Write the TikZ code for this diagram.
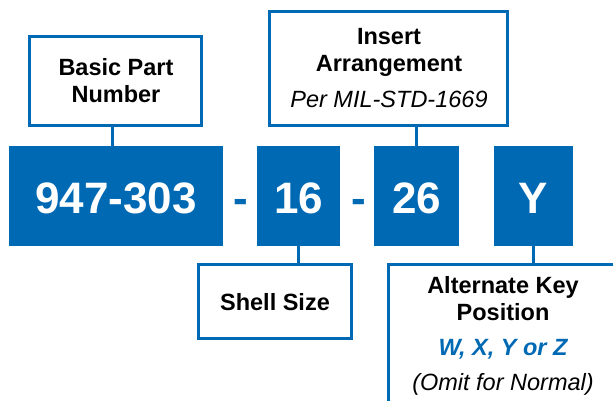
\documentclass[tikz,border=0pt]{standalone}
\usepackage{fontspec}
\setmainfont{Liberation Sans}
\definecolor{pblue}{HTML}{0069B4}
\begin{document}
\begin{tikzpicture}[x=1pt,y=-1pt,
  bluebox/.style={fill=pblue, inner sep=0pt},
  bignum/.style={anchor=base, inner sep=0pt, text=white, font=\fontsize{44}{50}\selectfont\bfseries},
  dashtxt/.style={anchor=base, inner sep=0pt, text=pblue, font=\fontsize{44}{50}\selectfont\bfseries},
  labelbox/.style={draw=pblue, line width=3pt, fill=white, inner sep=0pt},
  conn/.style={draw=pblue, line width=3pt},
  lbl/.style={anchor=base, inner sep=0pt, font=\fontsize{23.5}{27}\selectfont\bfseries},
  itl/.style={anchor=base, inner sep=0pt, font=\fontsize{23.5}{27}\selectfont\itshape},
  blueitl/.style={anchor=base, inner sep=0pt, text=pblue, font=\fontsize{23.5}{27}\selectfont\bfseries\itshape}]
\useasboundingbox (0,0) rectangle (613,401);
\clip (0,0) rectangle (613,401);
\fill[white] (0,0) rectangle (613,401);

% blue code boxes
\node[bluebox, minimum width=214pt, minimum height=100pt] (b1) at (116,196) {};
\node[bluebox, minimum width=83pt, minimum height=100pt] (b2) at (298.5,196) {};
\node[bluebox, minimum width=85pt, minimum height=100pt] (b3) at (416.5,196) {};
\node[bluebox, minimum width=79pt, minimum height=100pt] (b4) at (533.5,196) {};
\node[bignum] (t1) at (116,213) {947-303};
\node[bignum] (t2) at (298.5,213) {16};
\node[bignum] (t3) at (416.5,213) {26};
\node[bignum] (t4) at (533.5,213) {Y};
\node[dashtxt] (d1) at (241,213) {-};
\node[dashtxt] (d2) at (358.5,213) {-};

% label boxes
\node[labelbox, minimum width=172pt, minimum height=89pt] (bpn) at (115.5,81) {};
\node[labelbox, minimum width=238pt, minimum height=114pt] (ins) at (388.5,68.5) {};
\node[labelbox, minimum width=153pt, minimum height=74pt] (shell) at (275,301.5) {};
\node[labelbox, minimum width=231.5pt, minimum height=145.5pt] (alt) at (504.25,337.25) {};

% connectors
\draw[conn] ([xshift=-3.5pt]bpn.south) -- ([xshift=-3.5pt]bpn.south |- b1.north);
\draw[conn] (b3.north) -- (b3.north |- ins.south);
\draw[conn] (b2.south) -- (b2.south |- shell.north);
\draw[conn] (b4.south) -- (b4.south |- alt.north);

% label texts
\node[lbl] (l1a) at (116,76) {Basic Part};
\node[lbl] (l1b) at (116,103) {Number};
\node[lbl] (l2a) at (389,45) {Insert};
\node[lbl] (l2b) at (389,72) {Arrangement};
\node[itl] (l2c) at (389,108) {Per MIL-STD-1669};
\node[lbl] (l3) at (275,310) {Shell Size};
\node[lbl] (l4a) at (503,293) {Alternate Key};
\node[lbl] (l4b) at (503,320) {Position};
\node[blueitl] (l4c) at (503,355) {W, X, Y or Z};
\node[itl] (l4d) at (503,390) {(Omit for Normal)};
\end{tikzpicture}
\end{document}
